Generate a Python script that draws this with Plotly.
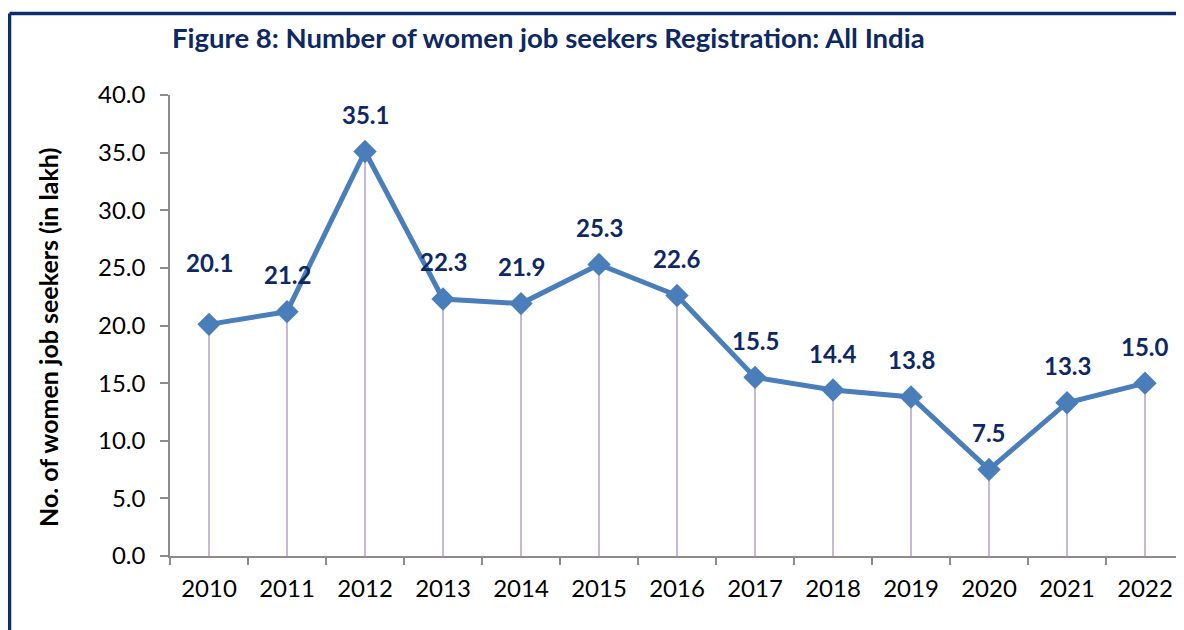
import plotly.graph_objects as go

years = ["2010", "2011", "2012", "2013", "2014", "2015", "2016",
         "2017", "2018", "2019", "2020", "2021", "2022"]
seekers = [20.1, 21.2, 35.1, 22.3, 21.9, 25.3, 22.6, 15.5, 14.4, 13.8, 7.5, 13.3, 15.0]
label_shift = [62, 37, 37, 37, 37, 37, 37, 37, 37, 37, 37, 37, 37]

title_text = "Figure 8: Number of women job seekers Registration: All India"
y_title = "No. of women job seekers (in lakh)"

FONT = "Lato, 'Open Sans', sans-serif"
NAVY = "#0d2862"
LINE = "#4a7ebb"

OFF = 8  # page body margin
W, H = 1184 - OFF, 630 - OFF
ML, MR, MT, MB = 170 - OFF, 0, 95 - OFF, 630 - 556
pw = W - ML - MR
ph = H - MT - MB

# drop lines
dx, dy = [], []
for i, v in enumerate(seekers):
    dx += [i, i, None]
    dy += [0, v, None]

fig = go.Figure()
fig.add_trace(go.Scatter(x=dx, y=dy, mode="lines",
                         line=dict(color="#b3a2c9", width=1.5),
                         hoverinfo="skip", showlegend=False))
fig.add_trace(go.Scatter(x=list(range(len(years))), y=seekers, mode="lines+markers",
                         line=dict(color=LINE, width=5),
                         marker=dict(symbol="diamond", size=18, color=LINE),
                         showlegend=False))

for i, (v, s) in enumerate(zip(seekers, label_shift)):
    fig.add_annotation(x=i, y=v, text=f"{v:.1f}", showarrow=False,
                       yshift=s, font=dict(family=FONT, size=24, color=NAVY,
                                           weight="bold"))

fig.add_annotation(xref="paper", yref="paper", x=(548 - 170) / pw,
                   y=1 + (95 - 38) / ph, yanchor="middle", xanchor="center",
                   text=title_text, showarrow=False,
                   font=dict(family=FONT, size=27.5, color=NAVY, weight="bold"))

fig.add_annotation(xref="paper", yref="paper", x=(48 - 170) / pw,
                   y=(556 - 338) / ph, yanchor="middle", xanchor="center",
                   textangle=-90, text=y_title, showarrow=False,
                   font=dict(family=FONT, size=25, color="black", weight="bold"))

# frame border (left and top edges, extending past the window)
bx0 = (9.5 - 170) / pw
by0 = 1 + (95 - 13.5) / ph
fig.add_shape(type="line", xref="paper", yref="paper", x0=bx0, x1=bx0,
              y0=by0, y1=-1, line=dict(color="#0e2b6b", width=3.5))
fig.add_shape(type="line", xref="paper", yref="paper", x0=bx0, x1=2,
              y0=by0, y1=by0, line=dict(color="#0e2b6b", width=3.5))

fig.update_layout(
    width=W, height=H,
    margin=dict(l=ML, r=MR, t=MT, b=MB),
    plot_bgcolor="white", paper_bgcolor="white",
    font=dict(family=FONT, color="black"),
    xaxis=dict(range=[-0.5, 12.5], showgrid=False, zeroline=False,
               tickmode="array", tickvals=list(range(len(years))), ticktext=years,
               showline=True, linecolor="#8c8c8c", linewidth=1.5,
               ticks="", ticklabelstandoff=10,
               tickfont=dict(family=FONT, size=24, color="black")),
    xaxis2=dict(overlaying="x", range=[-0.5, 12.5], side="bottom",
                tickmode="array", tickvals=[i - 0.5 for i in range(len(years) + 1)],
                showticklabels=False, showgrid=False, zeroline=False,
                ticks="outside", ticklen=8, tickcolor="#8c8c8c", tickwidth=1.5,
                anchor="y"),
    yaxis=dict(range=[0, 40], dtick=5, tickformat=".1f", showgrid=False,
               zeroline=False, showline=True, linecolor="#8c8c8c",
               linewidth=1.5, ticks="outside", ticklen=8,
               tickcolor="#8c8c8c", tickwidth=1.5, ticklabelstandoff=10,
               tickfont=dict(family=FONT, size=24, color="black")),
)
fig.add_trace(go.Scatter(x=[None], y=[None], xaxis="x2", showlegend=False,
                         hoverinfo="skip"))

fig.write_html("out.html")
